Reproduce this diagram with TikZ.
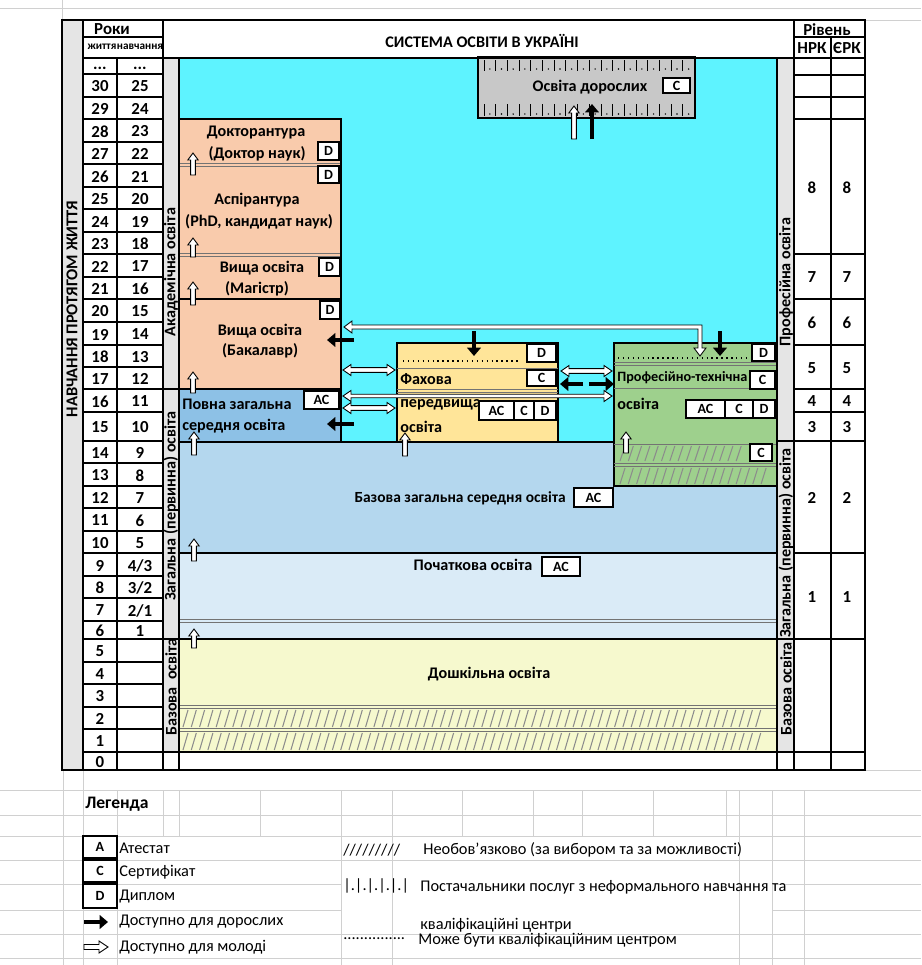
\documentclass[tikz,border=0pt]{standalone}
\usepackage{fontspec}
\setmainfont{Carlito}
\usetikzlibrary{arrows.meta, positioning}

\definecolor{skyc}{RGB}{94,243,255}
\definecolor{peach}{RGB}{249,203,172}
\definecolor{fullsec}{RGB}{141,193,230}
\definecolor{basesec}{RGB}{180,215,238}
\definecolor{primc}{RGB}{218,235,247}
\definecolor{presch}{RGB}{246,249,206}
\definecolor{fahova}{RGB}{255,229,153}
\definecolor{voc}{RGB}{158,208,141}
\definecolor{band}{RGB}{229,229,229}
\definecolor{adultc}{RGB}{200,200,200}
\definecolor{xlgrid}{RGB}{208,208,208}

\tikzset{
  lbl/.style={font=\fontsize{9.2}{11}\selectfont\bfseries, inner sep=0pt},
  num/.style={font=\fontsize{9.6}{11}\selectfont\bfseries, inner sep=0pt},
  tiny/.style={font=\fontsize{6.4}{7}\selectfont\bfseries, inner sep=0pt},
  tagbox/.style={draw, fill=white, line width=0.6pt},
  tagtxt/.style={font=\fontsize{8}{9}\selectfont\bfseries, inner sep=0pt},
  legtxt/.style={font=\fontsize{9.3}{11}\selectfont, inner sep=0pt, anchor=west},
  sep/.style={draw=black!55, line width=0.5pt},
  hatch/.style={draw=black!45, line width=0.6pt},
  youth/.style={draw=black, fill=white, line width=0.5pt},
  adult/.style={line width=2.8pt, -{Triangle[length=4.8pt, width=7.8pt]}},
  box/.style={line width=0.8pt}
}

\begin{document}
\begin{tikzpicture}[x=0.02cm, y=-0.02cm]
\useasboundingbox (0,0) rectangle (921,965);

% Excel grid behind the sheet
\draw[xlgrid] (0,8) -- (921,8);
\draw[xlgrid] (62,0) -- (62,20);
\draw[xlgrid] (865,20) -- (921,20);
\draw[xlgrid] (865,770) -- (921,770);
\foreach \y in {790,815,836,860,934,958}
    \draw[xlgrid] (0,\y) -- (921,\y);
\foreach \y in {884,910} {
    \draw[xlgrid] (0,\y) -- (341,\y);
    \draw[xlgrid] (772,\y) -- (921,\y);
}
\foreach \x in {63,83}
    \draw[xlgrid] (\x,770) -- (\x,965);
\foreach \x in {117,341,392,739,772,804}
    \draw[xlgrid] (\x,790) -- (\x,965);
\foreach \x in {163,179,260,462,533,582,653,726}
    \draw[xlgrid] (\x,790) -- (\x,836);

% 1. Sheet background and side bands
\fill[white] (62,20) rectangle (865,770);
\fill[band] (62,20) rectangle (83,770);
\fill[band] (163,58) rectangle (179,752);
\fill[band] (777,58) rectangle (794,752);

% 2. Levels of education
\fill[skyc] (179,58) rectangle (777,442);
\filldraw[fill=basesec, box] (179,442) rectangle (777,553);
\filldraw[fill=primc, box] (179,553) rectangle (777,639);
\filldraw[fill=presch, box] (179,639) rectangle (777,752);
\filldraw[fill=peach, box] (179,119) rectangle (341,389);
\filldraw[fill=fullsec, box] (179,389) rectangle (341,442);
\filldraw[fill=fahova, box] (397,343) rectangle (558,442);
\filldraw[fill=voc, box] (614,343) rectangle (777,486);

% inner separators
\foreach \y in {163,166,253,256}
    \draw[sep] (179,\y) -- (341,\y);
\draw[box] (179,299) -- (341,299);
\foreach \y in {619,622,705,708,728,731}
    \draw[sep] (179,\y) -- (777,\y);
\foreach \y in {389,392}
    \draw[sep] (397,\y) -- (558,\y);
\draw[sep] (397,368) -- (558,368);
\foreach \y in {362,365,444,463,466}
    \draw[sep] (614,\y) -- (777,\y);
\draw[sep] (614,388) -- (777,388);
\draw[line width=0.8pt, dotted] (403,361) -- (518,361);
\draw[line width=0.8pt, dotted] (618,358) -- (750,358);

% optional parts (hatching)
\foreach \x in {183,191.3,...,760} {
    \draw[hatch] (\x,727) -- (\x+5,710);
    \draw[hatch] (\x,750) -- (\x+5,733);
}
\foreach \x in {620,628.3,...,742}
    \draw[hatch] (\x,461) -- (\x+5,446);
\foreach \x in {620,628.3,...,768}
    \draw[hatch] (\x,484) -- (\x+5,468);

% adult education
\filldraw[fill=adultc, line width=1.2pt] (478,57) rectangle (695,118);
\foreach \x in {484,495.7,...,685} {
    \draw[line width=0.5pt] (\x,60) -- (\x,71);
    \draw[line width=0.5pt] (\x,104) -- (\x,116);
    \fill (\x+5.8,69) circle (0.45pt);
    \fill (\x+5.8,114) circle (0.45pt);
}

% 3. Labels
\node[lbl] (title) at (482,41) {СИСТЕМА ОСВІТИ В УКРАЇНІ};
\node[lbl] (adult) at (590,87) {Освіта дорослих};
\node[lbl] (doct) at (256,133) {Докторантура};
\node[lbl] (doct2) at (257,154) {(Доктор наук)};
\node[lbl] (asp) at (257,200) {Аспірантура};
\node[lbl] (asp2) at (259,222) {(PhD, кандидат наук)};
\node[lbl] (mag) at (262,268) {Вища освіта};
\node[lbl] (mag2) at (257,289) {(Магістр)};
\node[lbl] (bac) at (260,331) {Вища освіта};
\node[lbl] (bac2) at (260,351) {(Бакалавр)};
\node[lbl, anchor=west] (full) at (182,404) {Повна загальна};
\node[lbl, anchor=west] (full2) at (182,426) {середня освіта};
\node[lbl, anchor=west] (fah) at (400,379) {Фахова};
\node[lbl, anchor=west] (fah2) at (400,405) {передвища};
\node[lbl, anchor=west] (fah3) at (400,427) {освіта};
\node[lbl, anchor=west, font=\fontsize{8.1}{10}\selectfont\bfseries] (voc1) at (617,378) {Професійно-технічна};
\node[lbl, anchor=west] (voc2) at (617,404) {освіта};
\node[lbl, anchor=east, font=\fontsize{8.8}{10}\selectfont\bfseries] (base) at (566,498) {Базова загальна середня освіта};
\node[lbl] (prim) at (473,565) {Початкова освіта};
\node[lbl] (pre) at (489,674) {Дошкільна освіта};

\node[lbl, rotate=90, font=\fontsize{9.4}{11}\selectfont\bfseries] (lifelong) at (72,309) {НАВЧАННЯ ПРОТЯГОМ ЖИТТЯ};
\node[lbl, rotate=90] (acad) at (171,272) {Академічна освіта};
\node[lbl, rotate=90] (genl) at (171,506) {Загальна (первинна) освіта};
\node[lbl, rotate=90] (basl) at (171,687) {Базова\ \ освіта};
\node[lbl, rotate=90] (prof) at (786,282) {Професійна освіта};
\node[lbl, rotate=90] (genr) at (786,543) {Загальна (первинна) освіта};
\node[lbl, rotate=90] (basr) at (786,689) {Базова освіта};

% 4. Certificates (A, C, D)
\foreach \xa/\ya/\xb/\yb/\t [count=\i] in {
    318/142/339/160/D, 318/166/339/183/D, 319/258/340/276/D,
    320/301/340/319/D, 304/391/339/409/AC,
    527/344/556/362/D, 527/370/556/386/C, 479/401/514/420/AC,
    514/401/534/420/C, 534/401/556/420/D,
    752/344/775/361/D, 750/371/775/389/C, 686/400/725/418/AC,
    725/400/753/418/C, 753/400/775/418/D, 750/444/772/461/C,
    574/488/613/507/AC, 542/557/580/576/AC, 663/78/690/93/C,
    83/836/117/858/A, 83/860/117/882/C, 83/884/117/908/D} {
    \draw[tagbox] (\xa,\ya) rectangle (\xb,\yb);
    \node[tagtxt] (tag\i) at ({(\xa+\xb)/2},{(\ya+\yb)/2}) {\t};
}

% 5. Years table (left)
\node[num] (roky) at (112,29) {Роки};
\node[tiny] (zhyt) at (102,47) {життя};
\node[tiny] (navch) at (140,47) {навчання};
\node[num] (dots1) at (100,68) {...};
\node[num] (dots2) at (140,68) {...};
\foreach \ya/\yb/\l/\s in {74/97/30/25, 97/119/29/24, 119/142/28/23,
    142/164/27/22, 164/187/26/21, 187/209/25/20, 209/232/24/19,
    232/254/23/18, 254/277/22/17, 277/299/21/16, 299/322/20/15,
    322/345/19/14, 345/367/18/13, 367/389/17/12, 389/412/16/11,
    412/441/15/10, 441/463/14/9, 463/486/13/8, 486/508/12/7,
    508/531/11/6, 531/553/10/5, 553/576/9/{4/3}, 576/598/8/{3/2},
    598/621/7/{2/1}, 621/639/6/1, 639/662/5/{}, 662/684/4/{},
    684/707/3/{}, 707/729/2/{}, 729/752/1/{}, 752/770/0/{}} {
    \draw[line width=0.6pt] (83,\ya) -- (163,\ya);
    \node[num] at (100,{(\ya+\yb)/2+1}) {\l};
    \node[num] at (140,{(\ya+\yb)/2+1}) {\s};
}

% 6. Level table (right)
\node[num] (riven) at (827,30) {Рівень};
\node[num] (nrk) at (812,48) {НРК};
\node[num] (erk) at (847,48) {ЄРК};
\foreach \ya/\yb/\l in {58/75/{}, 75/97/{}, 97/119/{}, 119/254/8,
    254/299/7, 299/345/6, 345/389/5, 389/412/4, 412/441/3,
    441/553/2, 553/639/1, 639/752/{}, 752/770/{}} {
    \draw[line width=0.6pt] (794,\ya) -- (865,\ya);
    \node[num] at (812,{(\ya+\yb)/2+1}) {\l};
    \node[num] at (847,{(\ya+\yb)/2+1}) {\l};
}

% grid of the sheet
\draw[line width=0.6pt] (83,37) -- (163,37);
\draw[line width=0.6pt] (794,37) -- (865,37);
\draw[line width=0.6pt] (83,58) -- (794,58);
\foreach \x/\ya in {83/20, 117/58, 163/20, 179/58, 777/58, 794/20, 831/37}
    \draw[line width=0.6pt] (\x,\ya) -- (\x,770);
\draw[line width=0.6pt] (163,389) -- (179,389);
\foreach \y in {639,752} {
    \draw[line width=0.6pt] (163,\y) -- (179,\y);
    \draw[line width=0.6pt] (777,\y) -- (794,\y);
}
\draw[line width=0.6pt] (777,441) -- (794,441);
\draw[box] (341,119) -- (341,442);

% 7. Routes for the young (hollow arrows)
\foreach \x/\yb/\yt in {193/175/153, 193/257/238, 193/305/282,
    193/393/372, 194/455/432, 194/561/539, 194/648/629,
    405/456/433, 626/453/432, 574/139/106}
    \draw[youth] (\x-2.4,\yb) -- (\x-2.4,\yt+7) -- (\x-5.2,\yt+7) -- (\x,\yt)
        -- (\x+5.2,\yt+7) -- (\x+2.4,\yt+7) -- (\x+2.4,\yb) -- cycle;
\foreach \xa/\xb/\y/\h in {343/395/370/2.4, 343/395/408/2.4,
    561/612/371/2.4, 343/612/396/1.8}
    \draw[youth] (\xa,\y) -- (\xa+8,\y-5.5) -- (\xa+8,\y-\h) -- (\xb-8,\y-\h)
        -- (\xb-8,\y-5.5) -- (\xb,\y) -- (\xb-8,\y+5.5) -- (\xb-8,\y+\h)
        -- (\xa+8,\y+\h) -- (\xa+8,\y+5.5) -- cycle;
\draw[youth] (344,327) -- (352,321) -- (352,325) -- (702,325) -- (702,348)
    -- (706,348) -- (700,356) -- (694,348) -- (698,348) -- (698,329)
    -- (352,329) -- (352,333) -- cycle;

% 8. Routes for adults (black arrows)
\draw[adult] (592,139) -- (592,104);
\draw[adult] (474,331) -- (474,356);
\draw[adult] (720,331) -- (720,356);
\draw[adult] (354,340) -- (327,340);
\draw[adult] (354,424) -- (327,424);
\draw[adult] (583,384) -- (560,384);
\draw[adult] (589,384) -- (614,384);

% outer frame
\draw[line width=1.1pt] (62,20) rectangle (865,770);

% 9. Legend
\node[font=\fontsize{10}{12}\selectfont\bfseries, inner sep=0pt, anchor=west] (leg) at (85,804) {Легенда};
\node[legtxt] (lgA) at (119,848) {Атестат};
\node[legtxt] (lgC) at (119,872) {Сертифікат};
\node[legtxt] (lgD) at (119,897) {Диплом};
\draw[adult] (84,922) -- (108,922);
\node[legtxt] (lgAd) at (119,922) {Доступно для дорослих};
\draw[youth] (84,944.5) -- (99,944.5) -- (99,941) -- (108,947) -- (99,953)
    -- (99,949.5) -- (84,949.5) -- cycle;
\node[legtxt] (lgY) at (119,947) {Доступно для молоді};
\node[legtxt] (lgH) at (343,850) {/////////};
\node[legtxt] (lgHt) at (423,850) {Необов’язково (за вибором та за можливості)};
\node[legtxt] (lgP) at (343,886) {|.|.|.|.|.|};
\node[legtxt] (lgPt) at (420,887) {Постачальники послуг з неформального навчання та};
\node[legtxt] (lgPt2) at (420,925) {кваліфікаційні центри};
\node[legtxt] (lgQ) at (343,939) {...............};
\node[legtxt] (lgQt) at (418,940) {Може бути кваліфікаційним центром};
\end{tikzpicture}
\end{document}
